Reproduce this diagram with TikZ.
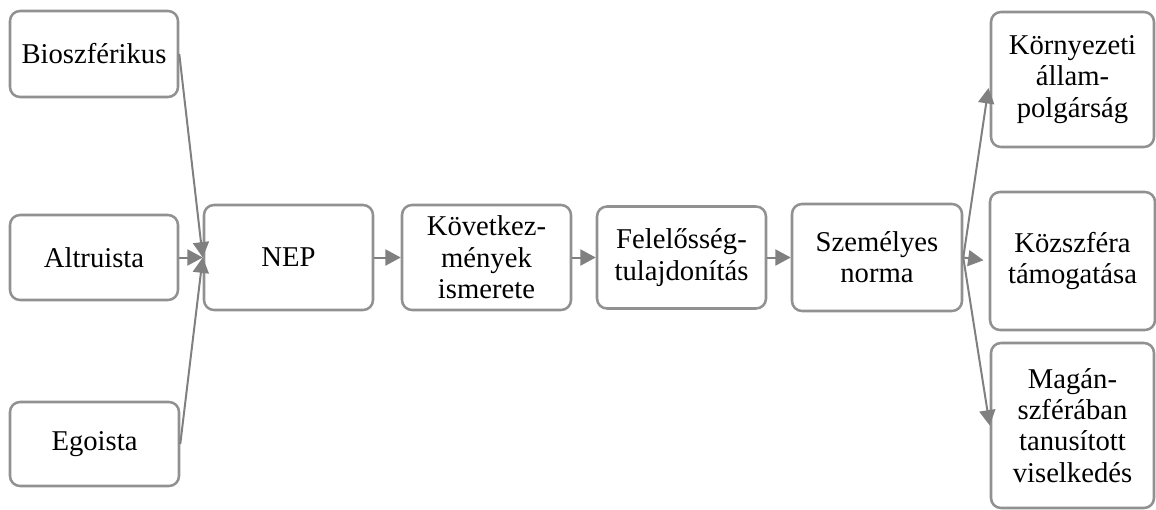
\documentclass[tikz,border=0pt]{standalone}
\usepackage{fontspec}
\setmainfont{Liberation Serif}
\usetikzlibrary{arrows.meta}
\definecolor{boxgray}{RGB}{145,145,145}
\definecolor{arrgray}{RGB}{128,128,128}
\tikzset{
  box/.style={draw=boxgray, line width=1.9pt, rounded corners=7.5pt, fill=white,
    align=center, inner sep=2pt, font=\fontsize{21.5}{23.5}\selectfont},
  conn/.style={draw=arrgray, line width=1.5pt, -{Triangle[length=11.5pt,width=12pt]}}
}
\begin{document}
\begin{tikzpicture}[x=0.75pt,y=-0.75pt]
\useasboundingbox (0,0) rectangle (1156,510);
\node[box, minimum width=126pt, minimum height=64.5pt] (bio) at (94,54) {Bioszférikus};
\node[box, minimum width=126pt, minimum height=63.75pt] (alt) at (94,257.5) {Altruista};
\node[box, minimum width=126.75pt, minimum height=63pt] (ego) at (94.5,444) {Egoista};
\node[box, minimum width=126.75pt, minimum height=78.75pt] (nep) at (288.5,257.5) {NEP};
\node[box, minimum width=126.75pt, minimum height=78.75pt] (kov) at (486.5,257.5) {Következ-\\mények\\ismerete};
\node[box, minimum width=126.75pt, minimum height=76.5pt] (fel) at (681.5,257.5) {Felelősség-\\tulajdonítás};
\node[box, minimum width=127.5pt, minimum height=80.25pt] (sze) at (877,257.5) {Személyes\\norma};
\node[box, minimum width=122.25pt, minimum height=101.25pt] (kor) at (1072.5,79.5) {Környezeti\\állam-\\polgárság};
\node[box, minimum width=123.75pt, minimum height=103.5pt] (koz) at (1072.5,261) {Közszféra\\támogatása};
\node[box, minimum width=122.25pt, minimum height=123.75pt] (mag) at (1072.5,425.5) {Magán-\\szférában\\tanusított\\viselkedés};
\draw[conn] (bio.east) -- (nep.west);
\draw[conn] (alt.east) -- (nep.west);
\draw[conn] (ego.east) -- (nep.west);
\draw[conn] (nep) -- (kov);
\draw[conn] (kov) -- (fel);
\draw[conn] (fel) -- (sze);
\draw[conn, shorten >=6.5pt] (sze.east) -- (kor.west);
\draw[conn, shorten >=4pt] (sze.east) -- (koz.west);
\draw[conn] (sze.east) -- (mag.west);
\end{tikzpicture}
\end{document}
